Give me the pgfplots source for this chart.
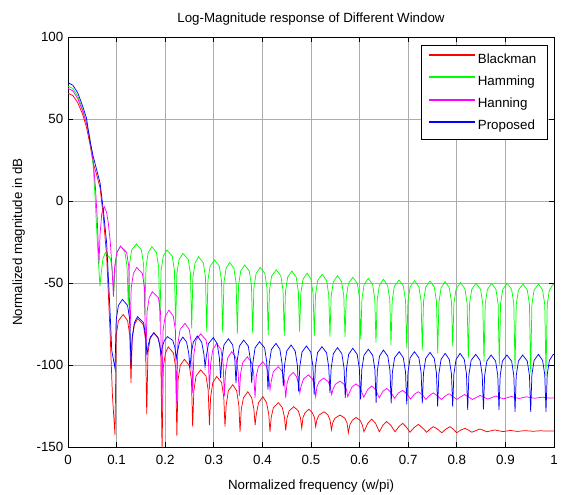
\documentclass[border=0pt]{standalone}
\usepackage{fontspec}
\setmainfont{Liberation Sans}
\usepackage{pgfplots}
\usepackage{pgfplotstable}
\pgfplotsset{compat=1.18}
\definecolor{cRed}{RGB}{255,0,0}
\definecolor{cGreen}{RGB}{0,255,0}
\definecolor{cMag}{RGB}{255,0,255}
\definecolor{cBlue}{RGB}{0,0,255}

\pgfplotstableread{
x y
0 70.1
0.01 68.6
0.02 64
0.03 56
0.038 47.5
0.045 38.5
0.052 21
0.0556 3
0.059 -17
0.0624 -36
0.0658 -52
0.0683 -44
0.072 -35
0.077 -31.5
0.0875 -35.2
0.092 -44
0.0945 -55
0.097 -40
0.1015 -31.1
0.108 -27.4
0.117 -31.1
0.1215 -40
0.124 -63.4
0.1265 -38.7
0.131 -29.9
0.141 -26.2
0.151 -29.9
0.1555 -38.7
0.158 -69.5
0.1605 -40.3
0.165 -31.5
0.1725 -27.8
0.182 -31.5
0.1865 -40.3
0.189 -73.6
0.1915 -42.4
0.196 -33.6
0.2035 -29.9
0.2145 -33.6
0.219 -42.4
0.2215 -76.6
0.224 -44.5
0.2285 -35.7
0.2365 -32
0.2475 -35.7
0.252 -44.5
0.2545 -77.6
0.257 -46.5
0.2615 -37.7
0.2685 -34
0.2784 -37.7
0.2829 -46.5
0.2854 -79.7
0.2879 -48.5
0.2924 -39.7
0.3015 -36
0.3113 -39.7
0.3158 -48.5
0.3183 -80.3
0.3208 -49.9
0.3253 -41.1
0.3325 -37.4
0.3414 -41.1
0.3459 -49.9
0.3484 -81
0.3509 -51.5
0.3554 -42.7
0.3635 -39
0.373 -42.7
0.3775 -51.5
0.38 -80.7
0.3825 -53
0.387 -44.2
0.3955 -40.5
0.405 -44.2
0.4095 -53
0.412 -81.7
0.4145 -54.5
0.419 -45.7
0.4285 -42
0.438 -45.7
0.4425 -54.5
0.445 -82.3
0.4475 -55.2
0.452 -46.4
0.4605 -42.7
0.4695 -46.4
0.474 -55.2
0.4765 -79.7
0.479 -56.5
0.4835 -47.7
0.492 -44
0.4998 -47.7
0.5043 -56.5
0.5068 -82.3
0.5093 -57.2
0.5138 -48.4
0.523 -44.7
0.532 -48.4
0.5365 -57.2
0.539 -82.7
0.5415 -58
0.546 -49.2
0.5545 -45.5
0.563 -49.2
0.5675 -58
0.570 -83
0.5725 -59
0.577 -50.2
0.586 -46.5
0.5953 -50.2
0.5998 -59
0.6023 -84.3
0.6048 -59.7
0.6093 -50.9
0.618 -47.2
0.6267 -50.9
0.6312 -59.7
0.6337 -86.4
0.6362 -60.2
0.6407 -51.4
0.649 -47.7
0.6576 -51.4
0.6621 -60.2
0.6646 -87.8
0.6671 -60.7
0.6716 -51.9
0.6812 -48.2
0.69 -51.9
0.6945 -60.7
0.697 -89.8
0.6995 -61.1
0.704 -52.3
0.713 -48.6
0.722 -52.3
0.7265 -61.1
0.729 -90.9
0.7315 -61.3
0.736 -52.5
0.745 -48.8
0.7537 -52.5
0.7582 -61.3
0.7607 -93
0.7632 -61.7
0.7677 -52.9
0.776 -49.2
0.7846 -52.9
0.7891 -61.7
0.7916 -88.8
0.7941 -62.3
0.7986 -53.5
0.8075 -49.8
0.8167 -53.5
0.8212 -62.3
0.8237 -96
0.8262 -62.7
0.8307 -53.9
0.8395 -50.2
0.849 -53.9
0.8535 -62.7
0.856 -98
0.8585 -62.7
0.863 -53.9
0.8718 -50.2
0.8805 -53.9
0.885 -62.7
0.8875 -100.6
0.89 -62.7
0.8945 -53.9
0.9035 -50.2
0.9128 -53.9
0.9173 -62.7
0.9198 -102.3
0.9223 -63.1
0.9268 -54.3
0.936 -50.6
0.945 -54.3
0.9495 -63.1
0.952 -104.7
0.9545 -63.1
0.959 -54.3
0.968 -50.6
0.9765 -54.3
0.981 -63.1
0.9835 -106.7
0.986 -63.1
0.9905 -54.3
0.9985 -50.6
1 -50.8
}\hamming

\pgfplotstableread{
x y
0 72.1
0.01 70.6
0.02 66
0.03 58
0.038 50.6
0.045 37
0.052 27
0.059 19
0.066 11
0.0727 -5.5
0.0796 -25.8
0.0864 -66.5
0.09 -91
0.0967 -102
0.0992 -72.5
0.1037 -63.7
0.112 -60
0.1226 -63.7
0.1271 -72.5
0.1296 -100
0.1321 -83
0.1366 -74.2
0.143 -70.5
0.1555 -74.2
0.16 -83
0.1625 -94
0.165 -88
0.1695 -83
0.1766 -80.5
0.1845 -83
0.189 -88
0.1915 -94
0.194 -89
0.1985 -85
0.2047 -82.7
0.2156 -85
0.2201 -89.5
0.2226 -96
0.2251 -92
0.2296 -86
0.2363 -83
0.244 -86
0.2485 -93
0.251 -102
0.2535 -93
0.258 -86
0.266 -82.3
0.275 -86
0.2795 -93
0.282 -101
0.2845 -95
0.289 -87
0.299 -83.3
0.307 -87
0.3115 -95.8
0.314 -108
0.3165 -96.5
0.321 -87.7
0.33 -84
0.3387 -87.7
0.3432 -96.5
0.3457 -111
0.3482 -97.3
0.3527 -88.5
0.3615 -84.8
0.371 -88.5
0.3755 -97.3
0.378 -111
0.3805 -98.3
0.385 -89.5
0.394 -85.8
0.4045 -89.5
0.409 -98.3
0.4115 -115
0.414 -99.3
0.4185 -90.5
0.428 -86.8
0.436 -90.5
0.4405 -99.3
0.443 -113
0.4455 -100.3
0.45 -91.5
0.459 -87.8
0.4675 -91.5
0.472 -100.3
0.4745 -116
0.477 -100.9
0.4815 -92.1
0.4905 -88.4
0.4995 -92.1
0.504 -100.9
0.5065 -118
0.509 -101.3
0.5135 -92.5
0.5225 -88.8
0.532 -92.5
0.5365 -101.3
0.539 -117
0.5415 -101.9
0.546 -93.1
0.5545 -89.4
0.5635 -93.1
0.568 -101.9
0.5705 -120
0.573 -102.3
0.5775 -93.5
0.586 -89.8
0.595 -93.5
0.5995 -102.3
0.602 -121
0.6045 -102.9
0.609 -94.1
0.618 -90.4
0.627 -94.1
0.6315 -102.9
0.634 -123
0.6365 -103.4
0.641 -94.6
0.649 -90.9
0.658 -94.6
0.6625 -103.4
0.665 -123.4
0.6675 -104.4
0.672 -95.6
0.6815 -91.9
0.69 -95.6
0.6945 -104.4
0.697 -124
0.6995 -104.4
0.704 -95.6
0.7128 -91.9
0.722 -95.6
0.7265 -104.4
0.729 -123.4
0.7315 -104.8
0.736 -96
0.745 -92.3
0.7536 -96
0.7581 -104.8
0.7606 -125.4
0.7631 -105.4
0.7676 -96.6
0.776 -92.9
0.7845 -96.6
0.789 -105.4
0.7915 -125.4
0.794 -105.4
0.7985 -96.6
0.8068 -92.9
0.8154 -96.6
0.8199 -105.4
0.8224 -127.4
0.8249 -106
0.8294 -97.2
0.839 -93.5
0.8478 -97.2
0.8523 -106
0.8548 -127
0.8573 -106.4
0.8618 -97.6
0.8705 -93.9
0.8798 -97.6
0.8843 -106.4
0.8868 -127.4
0.8893 -106.4
0.8938 -97.6
0.903 -93.9
0.9128 -97.6
0.9173 -106.4
0.9198 -128.5
0.9223 -106.4
0.9268 -97.6
0.9355 -93.9
0.945 -97.6
0.9495 -106.4
0.952 -128.5
0.9545 -106
0.959 -97.2
0.968 -93.5
0.9765 -97.2
0.981 -106
0.9835 -128.5
0.986 -106
0.9905 -97.2
0.9985 -93.5
1 -93.6
}\proposed

\pgfplotstableread{
x y
0 68.7
0.01 67.2
0.02 62.5
0.03 55
0.038 47.5
0.045 37.5
0.052 24
0.0565 8
0.06 -10
0.0638 -38
0.066 -20
0.0695 -7.5
0.0748 -3.5
0.0795 -7
0.083 -13.6
0.087 -25
0.09 -38
0.0935 -58.3
0.096 -40
0.1005 -31.3
0.108 -27.6
0.1206 -31.3
0.1251 -40
0.1276 -80
0.1301 -53
0.1346 -44.2
0.1415 -40.5
0.153 -44.2
0.1575 -53
0.16 -98
0.1625 -67.8
0.167 -59
0.1735 -55.3
0.186 -59
0.1905 -67.8
0.193 -127.4
0.1955 -79
0.2 -70.2
0.2078 -66.5
0.2166 -70.2
0.2211 -79
0.2236 -123.4
0.2261 -87.1
0.2306 -78.3
0.2407 -74.6
0.2495 -78.3
0.254 -87.1
0.2565 -117
0.259 -93.5
0.2635 -84.7
0.273 -81
0.284 -84.7
0.2885 -93.5
0.291 -115
0.2935 -99.3
0.298 -90.5
0.306 -86.8
0.3147 -90.5
0.3192 -99.3
0.3217 -119
0.3242 -104
0.3287 -95.6
0.337 -91.9
0.3455 -95.6
0.35 -104
0.3525 -119
0.355 -105.5
0.3595 -98.5
0.369 -95
0.3778 -98.5
0.3823 -105.5
0.3848 -120
0.3873 -107
0.3918 -101
0.401 -98
0.4086 -101
0.4131 -107
0.4156 -115
0.4181 -110
0.4226 -104
0.4327 -101
0.441 -104
0.4455 -110
0.448 -120
0.4505 -111.5
0.455 -107
0.4636 -104.5
0.47 -107
0.4745 -111.5
0.477 -117
0.4795 -113
0.4845 -108.5
0.4945 -106
0.503 -108.5
0.5071 -113
0.5096 -119.3
0.512 -113.5
0.517 -110
0.526 -108
0.535 -110
0.54 -113.5
0.5426 -118
0.545 -115
0.55 -111.8
0.5597 -109.8
0.568 -111.8
0.573 -115
0.5755 -119.3
0.584 -113.5
0.5925 -111.5
0.6005 -113.5
0.6085 -119.7
0.6165 -115
0.6248 -112.8
0.633 -115
0.6403 -120
0.648 -116
0.6557 -114.3
0.664 -116.5
0.672 -120.3
0.68 -117
0.6886 -115.5
0.697 -117.5
0.7047 -120.8
0.7128 -117.8
0.7208 -116.3
0.729 -118
0.7362 -121
0.744 -118.5
0.7517 -117
0.76 -118.8
0.768 -121
0.776 -119
0.784 -117.5
0.792 -119.2
0.8 -121
0.808 -119.4
0.816 -118
0.824 -119.5
0.832 -121
0.84 -119.8
0.848 -118.5
0.856 -119.7
0.864 -120.8
0.88 -118.9
0.896 -120.6
0.912 -119.2
0.928 -120.4
0.944 -119.4
0.96 -120.3
0.976 -119.6
0.99 -120.2
1 -120
}\hanning

\pgfplotstableread{
x y
0 65.7
0.01 64.3
0.02 60
0.03 53
0.038 45
0.045 35
0.052 23
0.059 16
0.066 8
0.0727 -9.6
0.0796 -34
0.0864 -78.7
0.0915 -119
0.0967 -142.7
0.0992 -82
0.1037 -73
0.1135 -69.2
0.1226 -73
0.1271 -82
0.1296 -111
0.1321 -84.2
0.1366 -75.4
0.1435 -71.7
0.155 -75.4
0.1595 -84.2
0.162 -130
0.1645 -92.7
0.169 -83.9
0.1766 -80.2
0.1865 -83.9
0.191 -92.7
0.1935 -153
0.196 -101.5
0.2005 -92.7
0.2063 -89
0.217 -92.7
0.2215 -101.5
0.224 -143
0.2265 -109
0.231 -100.2
0.2395 -96.5
0.2495 -100.2
0.254 -109
0.2565 -137.6
0.259 -115.5
0.2635 -106.7
0.273 -103
0.284 -106.7
0.2885 -115.5
0.291 -136.6
0.2935 -119.5
0.298 -110.7
0.306 -107
0.316 -110.7
0.3205 -119.5
0.323 -137.6
0.3255 -124.5
0.33 -115.7
0.339 -112
0.347 -115.7
0.3515 -124.5
0.354 -140.7
0.3565 -127
0.361 -120
0.37 -116.3
0.378 -120
0.3825 -127
0.385 -136.6
0.3875 -130
0.392 -123
0.401 -119.3
0.4086 -123
0.4131 -130
0.4156 -140.7
0.4181 -132
0.4226 -126
0.433 -123
0.441 -126
0.4455 -132
0.448 -140
0.4505 -132.5
0.455 -128
0.4645 -125.4
0.474 -128
0.4785 -132.5
0.481 -138.6
0.4835 -132
0.488 -129
0.4955 -127
0.5026 -129
0.5071 -132
0.5096 -137.6
0.512 -133.5
0.5165 -130.5
0.527 -128.5
0.535 -130.5
0.5395 -134
0.542 -139.6
0.5445 -135.5
0.549 -132.5
0.5597 -130.5
0.5698 -132.5
0.5743 -135.5
0.5768 -141.3
0.58 -136.5
0.585 -133.7
0.5926 -132
0.601 -133.7
0.6055 -136.5
0.609 -140.7
0.617 -135.5
0.6248 -133
0.6327 -135.5
0.6406 -140.7
0.648 -136.7
0.6557 -134.5
0.664 -136.7
0.673 -140.7
0.681 -137.5
0.6886 -135.6
0.696 -137.8
0.7037 -141
0.712 -138.2
0.7208 -136.2
0.729 -138.2
0.738 -141
0.745 -139
0.7517 -137.6
0.76 -139
0.769 -141.3
0.777 -139.2
0.786 -137.6
0.793 -139.2
0.7997 -141.3
0.808 -139.7
0.817 -138.6
0.824 -139.7
0.831 -141
0.8477 -139
0.862 -140.7
0.878 -139.6
0.895 -140.6
0.91 -139.9
0.925 -140.5
0.94 -140
0.957 -140.4
0.972 -140.1
0.985 -140.3
1 -140.2
}\blackman

\begin{document}
\begin{tikzpicture}
\begin{axis}[
  at={(0,0)}, anchor=south west,
  scale only axis,
  width=364.5pt, height=307.5pt,
  xmin=0, xmax=1, ymin=-150, ymax=100,
  xtick={0,0.1,...,1.0},
  xticklabels={0,0.1,0.2,0.3,0.4,0.5,0.6,0.7,0.8,0.9,1},
  ytick={-150,-100,-50,0,50,100},
  /pgf/number format/assume math mode=true,
  tick align=inside,
  major tick length=3.5pt,
  tick style={black, line width=0.5pt},
  grid=major,
  grid style={gray!65, line width=0.6pt},
  axis line style={black, line width=0.6pt},
  ticklabel style={font=\fontsize{10}{12}\selectfont},
  xticklabel style={yshift=-2.5pt},
  title={Log-Magnitude response of Different Window},
  title style={font=\fontsize{10}{12}\selectfont, yshift=-1pt},
  xlabel={Normalized frequency (w/pi)},
  xlabel style={font=\fontsize{10}{12}\selectfont, yshift=-4.5pt},
  ylabel={Normalized magnitude in dB},
  ylabel style={font=\fontsize{10}{12}\selectfont, yshift=2pt},
  legend style={at={(axis description cs:1,1)}, anchor=north east,
    xshift=-5pt, yshift=-6pt,
    font=\fontsize{10}{12}\selectfont, row sep=3.8pt,
    inner xsep=6pt, inner ysep=4pt},
  legend image code/.code={\fill[#1] (0pt,2.7pt) rectangle (34pt,3.5pt); \path (0pt,0pt) (34pt,6.2pt);},
  legend cell align=left,
  every axis plot/.append style={line width=0.55pt},
]
\addplot[color=cRed] table[x=x,y=y] {\blackman};
\addlegendentry{Blackman}
\addplot[color=cGreen] table[x=x,y=y] {\hamming};
\addlegendentry{Hamming}
\addplot[color=cMag] table[x=x,y=y] {\hanning};
\addlegendentry{Hanning}
\addplot[color=cBlue] table[x=x,y=y] {\proposed};
\addlegendentry{Proposed}
\end{axis}
\pgfresetboundingbox
\path[use as bounding box] (-51pt,-35.25pt) rectangle (371.25pt,335.25pt);
\end{tikzpicture}
\end{document}
